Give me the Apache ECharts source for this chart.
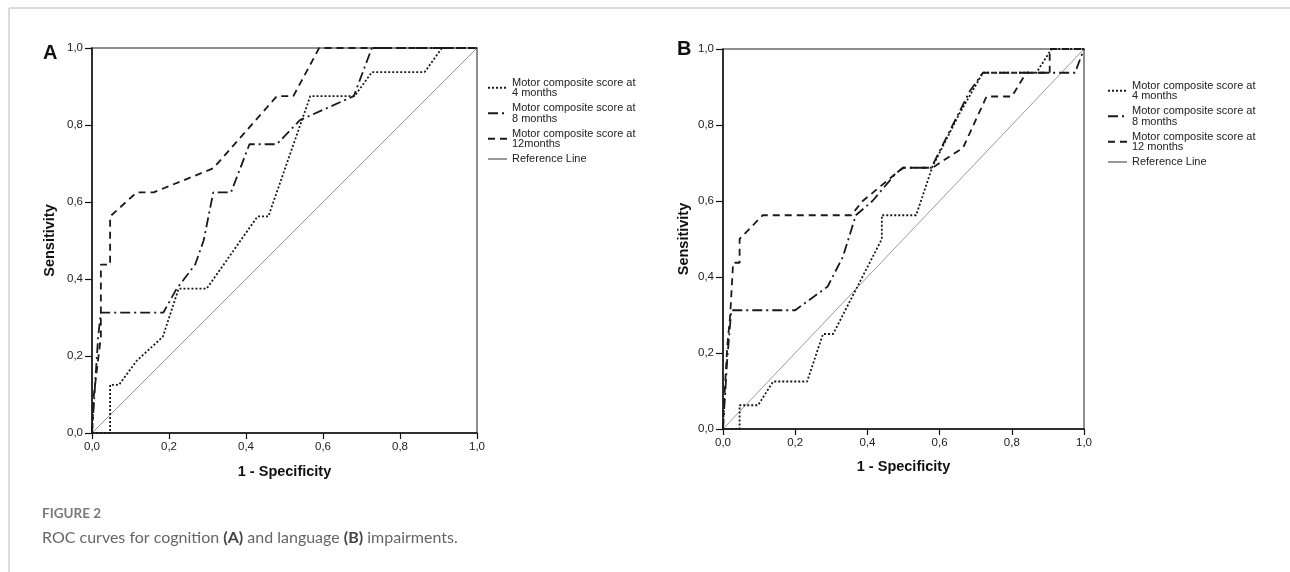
<!DOCTYPE html>
<html>
<head>
<meta charset="utf-8">
<script src="https://cdn.jsdelivr.net/npm/echarts@6/dist/echarts.min.js"></script>
<style>
html,body{margin:0;padding:0;background:#fff;}
#chart{width:1290px;height:572px;}
</style>
</head>
<body>
<div id="chart"></div>
<script>
// ---- data (x = 1 - Specificity, y = Sensitivity) ----
const xTicks = [0, 0.2, 0.4, 0.6, 0.8, 1.0];
const refLine = [[0, 0], [1, 1]];

// Panel A: cognition
const cog4 = [[0,0],[0.047,0],[0.047,0.125],[0.07,0.125],[0.116,0.1875],[0.184,0.25],[0.225,0.375],[0.298,0.375],[0.43,0.5625],[0.458,0.5625],[0.567,0.875],[0.682,0.875],[0.727,0.9375],[0.864,0.9375],[0.909,1],[1,1]];
const cog8 = [[0,0],[0.016,0.25],[0.023,0.3125],[0.185,0.3125],[0.22,0.375],[0.268,0.4375],[0.29,0.5],[0.315,0.625],[0.361,0.625],[0.409,0.75],[0.48,0.75],[0.54,0.8125],[0.68,0.875],[0.727,1],[1,1]];
const cog12 = [[0,0],[0.005,0.1],[0.023,0.25],[0.023,0.4375],[0.047,0.4375],[0.047,0.5625],[0.116,0.625],[0.16,0.625],[0.315,0.6875],[0.48,0.875],[0.523,0.875],[0.59,1],[1,1]];

// Panel B: language
const lang4 = [[0,0],[0.046,0],[0.046,0.0625],[0.097,0.0625],[0.139,0.125],[0.233,0.125],[0.277,0.25],[0.305,0.25],[0.44,0.5],[0.44,0.5625],[0.535,0.5625],[0.58,0.69],[0.655,0.83],[0.72,0.9375],[0.868,0.9375],[0.91,1],[1,1]];
const lang8 = [[0,0],[0.012,0.1875],[0.023,0.3125],[0.2,0.3125],[0.29,0.375],[0.332,0.453],[0.368,0.5625],[0.414,0.6],[0.479,0.673],[0.5,0.6875],[0.577,0.6875],[0.61,0.75],[0.683,0.888],[0.72,0.9375],[0.975,0.9375],[1,1]];
const lang12 = [[0,0],[0.003,0.07],[0.012,0.22],[0.02,0.3],[0.028,0.4375],[0.046,0.4375],[0.046,0.5],[0.11,0.5625],[0.355,0.5625],[0.387,0.6],[0.498,0.6875],[0.58,0.6875],[0.665,0.74],[0.73,0.875],[0.8,0.875],[0.84,0.9375],[0.905,0.9375],[0.905,1],[1,1]];

const nameM4 = 'Motor composite score at\n4 months';
const nameM8 = 'Motor composite score at\n8 months';
const nameM12A = 'Motor composite score at\n12months';
const nameM12B = 'Motor composite score at\n12 months';
const nameRef = 'Reference Line';

// ---- styling ----
const FONT = '"Liberation Sans", Arial, Helvetica, sans-serif';
const fmt = v => v.toFixed(1).replace('.', ',');
const styleM4 = { color: '#1a1a1a', width: 1.8, type: [2, 2] };
const styleM8 = { color: '#1a1a1a', width: 1.8, type: [10, 4, 2, 4] };
const styleM12 = { color: '#1a1a1a', width: 1.8, type: [7, 5] };
const styleRef = { color: '#9a9a9a', width: 1, type: 'solid' };

function xAxisDef(gridIndex, gap) {
  return {
    type: 'value', gridIndex, min: 0, max: 1, interval: 0.2,
    name: '1 - Specificity', nameLocation: 'middle', nameGap: gap,
    nameTextStyle: { fontFamily: FONT, fontWeight: 'bold', fontSize: 14.5, color: '#111' },
    axisLine: { show: true, lineStyle: { color: '#111', width: 1.5 } },
    axisTick: { show: true, length: 6, lineStyle: { color: '#111', width: 1.2 } },
    axisLabel: { formatter: fmt, fontFamily: FONT, fontSize: 11.5, color: '#222', margin: 8 },
    splitLine: { show: false }
  };
}
function yAxisDef(gridIndex, gap) {
  return {
    type: 'value', gridIndex, min: 0, max: 1, interval: 0.2,
    name: 'Sensitivity', nameLocation: 'middle', nameGap: gap,
    nameTextStyle: { fontFamily: FONT, fontWeight: 'bold', fontSize: 14.5, color: '#111' },
    axisLine: { show: true, lineStyle: { color: '#111', width: 1.5 } },
    axisTick: { show: true, length: 7, lineStyle: { color: '#111', width: 1.2 } },
    axisLabel: { formatter: fmt, fontFamily: FONT, fontSize: 11.5, color: '#222', margin: 9 },
    splitLine: { show: false }
  };
}
function lineSeries(name, data, style, idx, z) {
  return {
    type: 'line', name, data, xAxisIndex: idx, yAxisIndex: idx,
    symbol: 'none', lineStyle: style, itemStyle: { color: style.color },
    z: z || 3, silent: true, animation: false
  };
}
function legendDef(left, top, names) {
  return {
    orient: 'vertical', left, top, padding: 0, itemGap: 4,
    itemWidth: 19, itemHeight: 10, data: names, selectedMode: false,
    itemStyle: { opacity: 0 },
    textStyle: { fontFamily: FONT, fontSize: 11, color: '#222', lineHeight: 10.5 }
  };
}

const option = {
  backgroundColor: '#fff',
  animation: false,
  grid: [
    { left: 92, top: 48, width: 385, height: 385, show: true, borderColor: '#6a6a6a', borderWidth: 1.5, backgroundColor: 'transparent' },
    { left: 723, top: 49, width: 361, height: 380, show: true, borderColor: '#6a6a6a', borderWidth: 1.5, backgroundColor: 'transparent' }
  ],
  xAxis: [xAxisDef(0, 31), xAxisDef(1, 30)],
  yAxis: [yAxisDef(0, 35), yAxisDef(1, 32)],
  legend: [
    legendDef(487, 77, [nameM4, nameM8, nameM12A, nameRef]),
    legendDef(1107, 80, [nameM4, nameM8, nameM12B, nameRef])
  ],
  series: [
    lineSeries(nameRef, refLine, styleRef, 0, 2),
    lineSeries(nameM4, cog4, styleM4, 0),
    lineSeries(nameM8, cog8, styleM8, 0),
    lineSeries(nameM12A, cog12, styleM12, 0),
    lineSeries(nameRef, refLine, styleRef, 1, 2),
    lineSeries(nameM4, lang4, styleM4, 1),
    lineSeries(nameM8, lang8, styleM8, 1),
    lineSeries(nameM12B, lang12, styleM12, 1)
  ],
  graphic: [
    { type: 'line', shape: { x1: 9, y1: 8, x2: 1290, y2: 8 }, style: { stroke: '#cfcfcf', lineWidth: 1.5 }, silent: true },
    { type: 'line', shape: { x1: 9, y1: 8, x2: 9, y2: 572 }, style: { stroke: '#cfcfcf', lineWidth: 1.5 }, silent: true },
    { type: 'text', left: 43, top: 43, style: { text: 'A', font: 'bold 20px ' + FONT, fill: '#111' }, silent: true },
    { type: 'text', left: 677, top: 39, style: { text: 'B', font: 'bold 20px ' + FONT, fill: '#111' }, silent: true },
    { type: 'text', left: 42, top: 507, style: { text: 'FIGURE 2', font: 'bold 13.5px Lato, "Open Sans", sans-serif', fill: '#7a7a7a' }, silent: true },
    { type: 'text', left: 42, top: 530, style: {
        text: 'ROC curves for cognition {b|(A)} and language {b|(B)} impairments.',
        font: '16px Lato, "Open Sans", sans-serif', fill: '#666',
        rich: { b: { fontFamily: 'Lato, "Open Sans", sans-serif', fontSize: 16, fontWeight: 'bold', fill: '#444' } }
      }, silent: true }
  ]
};

const chart = echarts.init(document.getElementById('chart'), null, { renderer: 'canvas' });
chart.setOption(option);
</script>
</body>
</html>
